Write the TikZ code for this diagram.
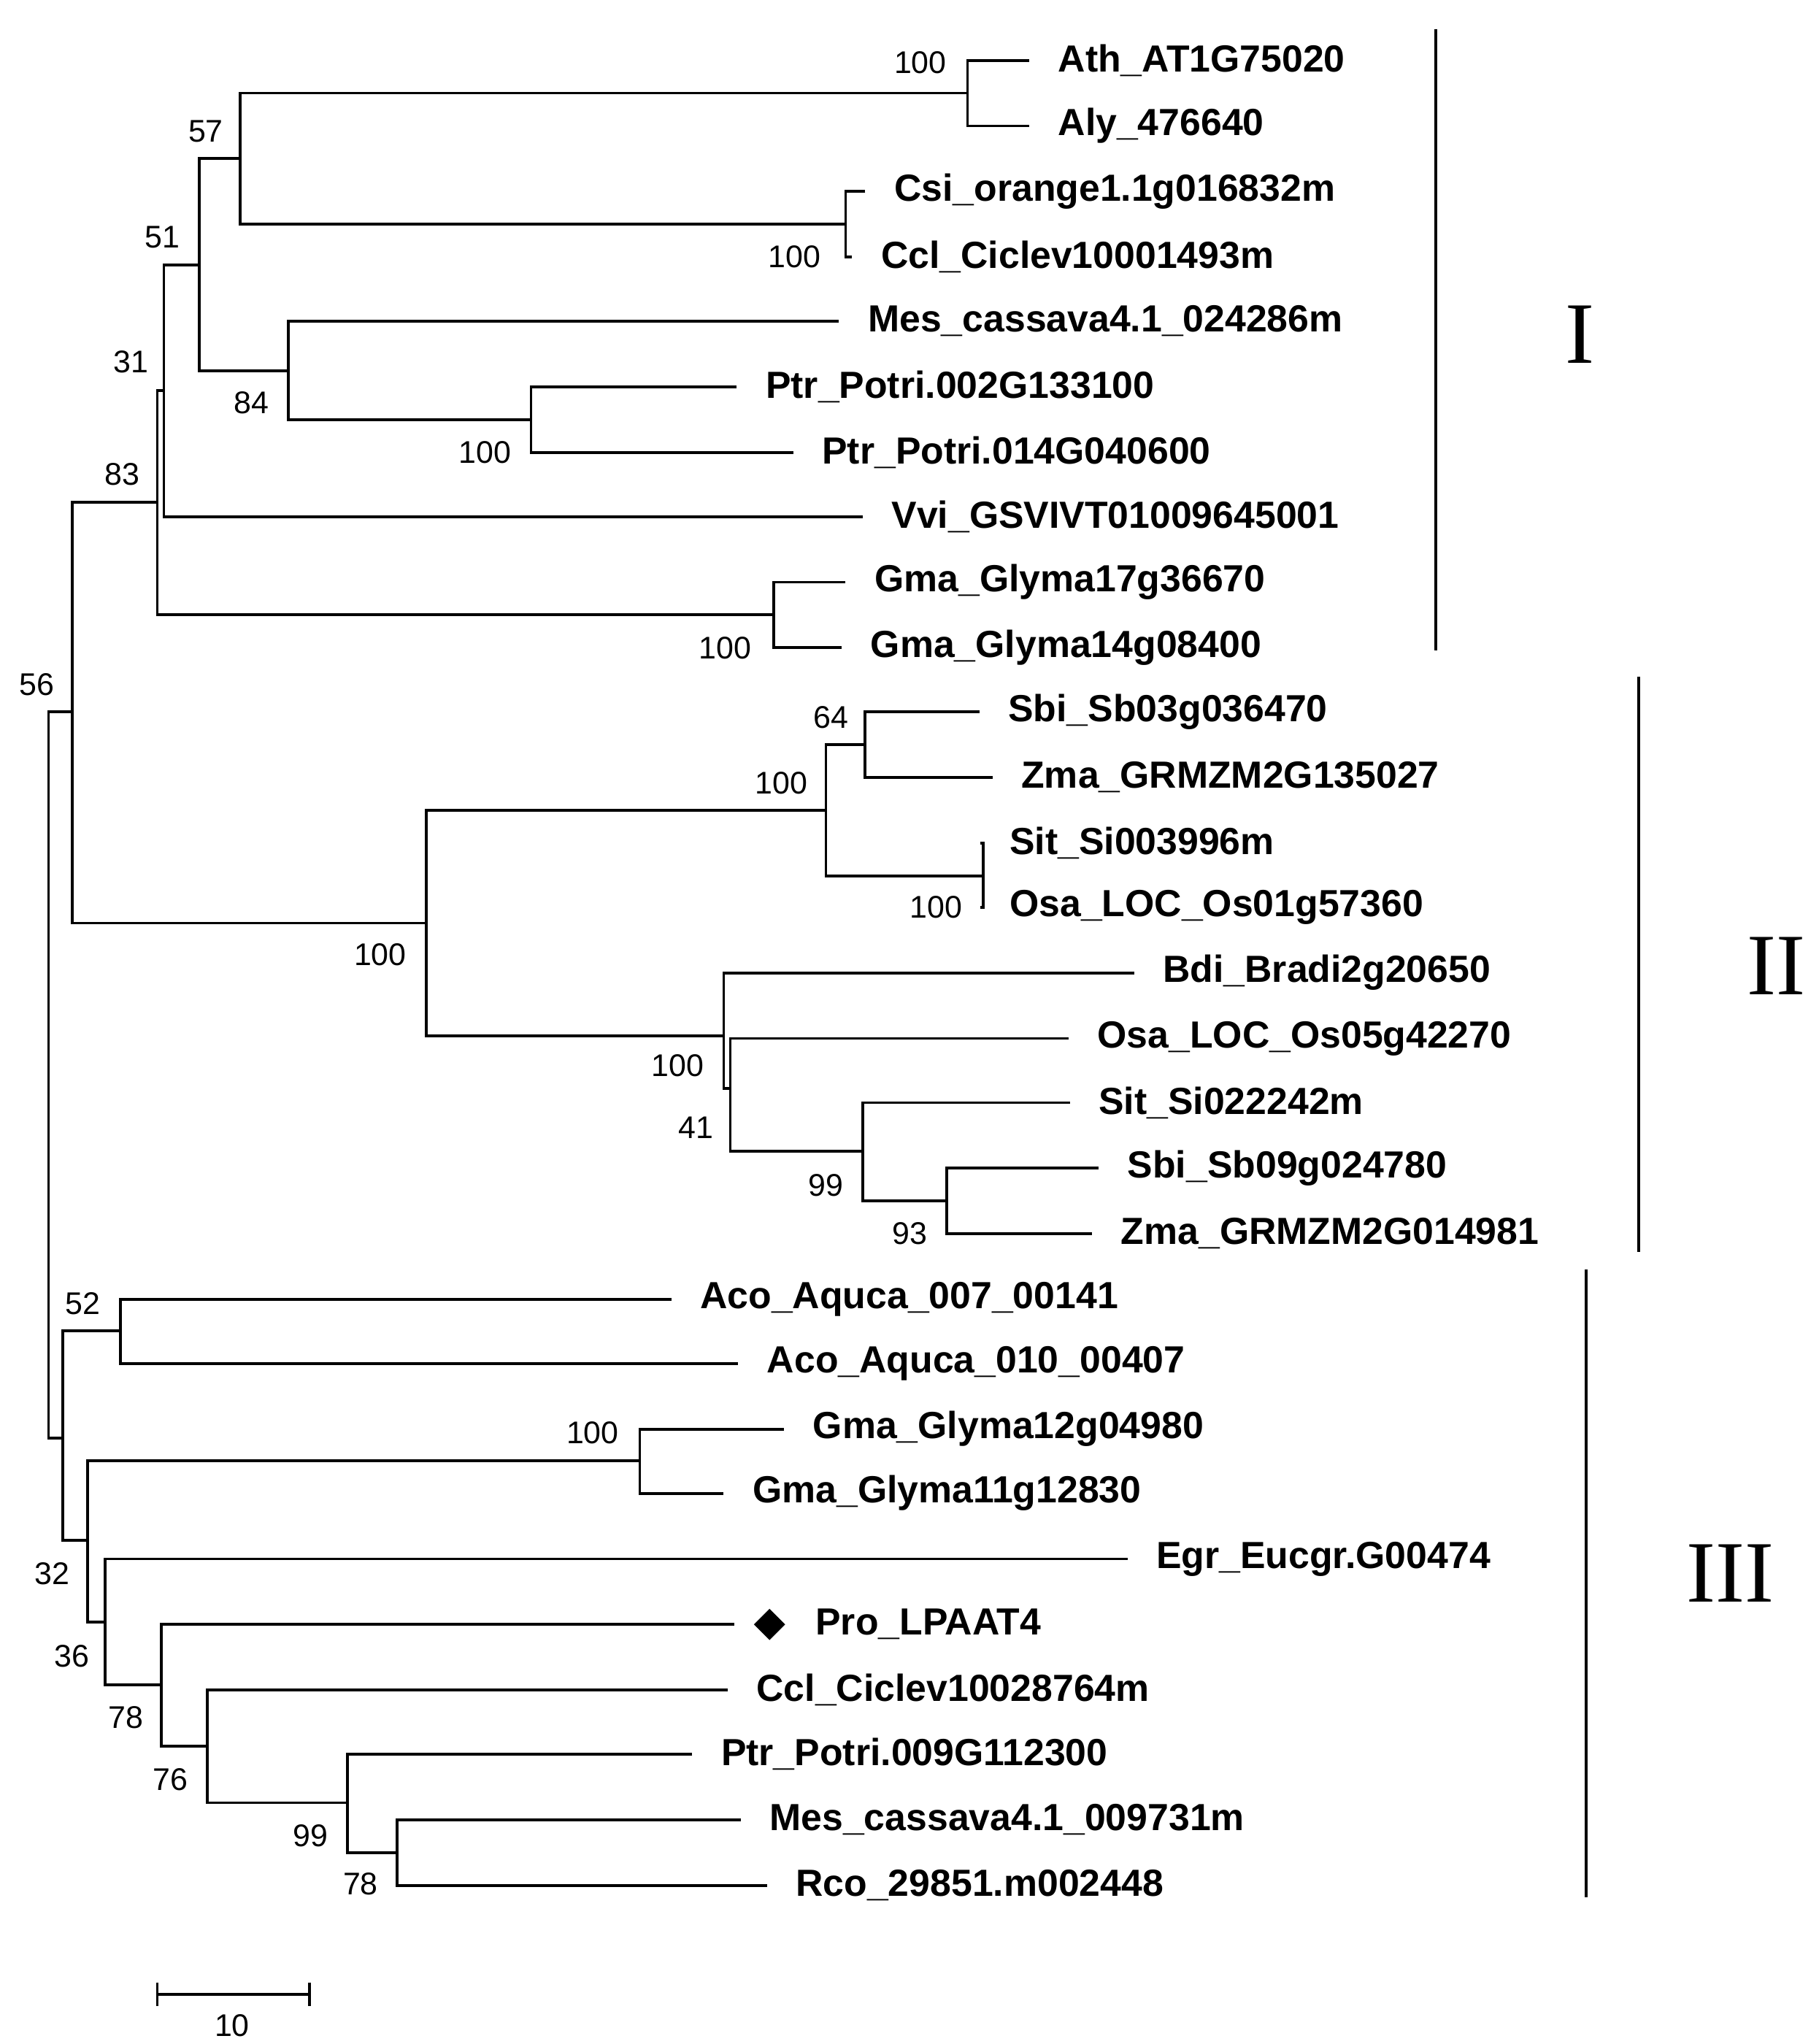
\documentclass[tikz,border=0pt]{standalone}
\usepackage{fontspec}
\setmainfont{Liberation Sans}
\usetikzlibrary{shapes.geometric}
\tikzset{
 br/.style={line width=3pt},
 leaf/.style={anchor=west,inner sep=0pt,font=\fontsize{41}{46}\selectfont\bfseries},
 bs/.style={inner sep=0pt,font=\fontsize{34}{40}\selectfont},
 clab/.style={inner sep=0pt,font=\fontspec{Liberation Serif}\fontsize{95}{105}\selectfont},
}
\newcommand\lf[4]{\coordinate (#1) at (#2,#3); \node[leaf] (t#1) at (#2+22,#3) {#4};}
\begin{document}
\begin{tikzpicture}[x=0.05cm,y=-0.05cm]
\useasboundingbox (0,0) rectangle (1387,1559);
% leaves
\lf{a1}{785}{46}{Ath\_AT1G75020}
\lf{a2}{785}{96}{Aly\_476640}
\lf{a3}{660}{146}{Csi\_orange1.1g016832m}
\lf{a4}{650}{196}{Ccl\_Ciclev10001493m}
\lf{a5}{640}{245}{Mes\_cassava4.1\_024286m}
\lf{a6}{562}{295}{Ptr\_Potri.002G133100}
\lf{a7}{605}{345}{Ptr\_Potri.014G040600}
\lf{a8}{658}{394}{Vvi\_GSVIVT01009645001}
\lf{a9}{645}{444}{Gma\_Glyma17g36670}
\lf{a10}{642}{494}{Gma\_Glyma14g08400}
\lf{b1}{747}{543}{Sbi\_Sb03g036470}
\lf{b2}{757}{593}{Zma\_GRMZM2G135027}
\lf{b3}{748}{643}{Sit\_Si003996m}
\lf{b4}{748}{692}{Osa\_LOC\_Os01g57360}
\lf{b5}{865}{742}{Bdi\_Bradi2g20650}
\lf{b6}{815}{792}{Osa\_LOC\_Os05g42270}
\lf{b7}{816}{841}{Sit\_Si022242m}
\lf{b8}{838}{891}{Sbi\_Sb09g024780}
\lf{b9}{833}{941}{Zma\_GRMZM2G014981}
\lf{c1}{512}{991}{Aco\_Aquca\_007\_00141}
\lf{c2}{563}{1040}{Aco\_Aquca\_010\_00407}
\lf{c3}{598}{1090}{Gma\_Glyma12g04980}
\lf{c4}{552}{1139}{Gma\_Glyma11g12830}
\lf{c5}{860}{1189}{Egr\_Eucgr.G00474}
\coordinate (c6) at (560,1239);
\node[diamond,fill=black,minimum width=34pt,minimum height=34pt,inner sep=0pt] (dia) at (587,1239) {};
\node[leaf] (tc6) at (622,1239) {Pro\_LPAAT4};
\lf{c7}{555}{1289}{Ccl\_Ciclev10028764m}
\lf{c8}{528}{1338}{Ptr\_Potri.009G112300}
\lf{c9}{565}{1388}{Mes\_cassava4.1\_009731m}
\lf{c10}{585}{1438}{Rco\_29851.m002448}
% clade I
\draw[br] (a1) -| (738,71) coordinate (nA) |- (a2);
\draw[br] (a3) -| (645,171) coordinate (nB) |- (a4);
\draw[br] (nA) -| (183,121) coordinate (nC) |- (nB);
\draw[br] (a6) -| (405,320) coordinate (nD) |- (a7);
\draw[br] (a5) -| (220,283) coordinate (nE) |- (nD);
\draw[br] (nC) -| (152,202) coordinate (nF) |- (nE);
\draw[br] (nF) -| (125,298) coordinate (n31) |- (a8);
\draw[br] (a9) -| (590,469) coordinate (nG) |- (a10);
\draw[br] (n31) -| (120,383) coordinate (n83) |- (nG);
% clade II
\draw[br] (b1) -| (660,568) coordinate (n64) |- (b2);
\draw[br] (b3) -| (750,668) coordinate (nH) |- (b4);
\draw[br] (n64) -| (630,618) coordinate (nI) |- (nH);
\draw[br] (b8) -| (722,916) coordinate (n93) |- (b9);
\draw[br] (b7) -| (658,878) coordinate (n99) |- (n93);
\draw[br] (b6) -| (557,830) coordinate (n41) |- (n99);
\draw[br] (b5) -| (552,790) coordinate (nJ) |- (n41);
\draw[br] (nI) -| (325,704) coordinate (nK) |- (nJ);
\draw[br] (n83) -| (55,543) coordinate (n56) |- (nK);
% clade III
\draw[br] (c1) -| (92,1015) coordinate (n52) |- (c2);
\draw[br] (c3) -| (488,1114) coordinate (nL) |- (c4);
\draw[br] (c9) -| (303,1413) coordinate (n78b) |- (c10);
\draw[br] (c8) -| (265,1375) coordinate (n99b) |- (n78b);
\draw[br] (c7) -| (158,1332) coordinate (n76) |- (n99b);
\draw[br] (c6) -| (123,1285) coordinate (n78) |- (n76);
\draw[br] (c5) -| (80,1237) coordinate (n36) |- (n78);
\draw[br] (nL) -| (67,1175) coordinate (n32) |- (n36);
\draw[br] (n52) -| (48,1097) coordinate (nM) |- (n32);
\draw[br] (n56) -| (37,820) coordinate (root) |- (nM);
% bootstrap
\foreach \t/\x/\y in {100/702/48,100/606/196,57/157/100,51/124/181,84/192/307,100/370/345,31/100/276,83/93/362,100/553/494,56/28/522,64/634/547,100/596/597,100/714/692,100/290/728,100/517/813,41/531/860,99/630/904,93/694/941,52/63/994,100/452/1093,32/40/1200,36/55/1263,78/96/1310,76/130/1357,99/237/1400,78/275/1437}
 \node[bs] at (\x,\y) {\t};
% clade bars
\draw[br] (1095,22) coordinate (i1) -- (1095,496) coordinate (i2);
\node[clab] (lI) at (1205,255) {I};
\draw[br] (1250,516) coordinate (ii1) -- (1250,955) coordinate (ii2);
\node[clab] (lII) at (1355,737) {II};
\draw[br] (1210,968) coordinate (iii1) -- (1210,1447) coordinate (iii2);
\node[clab] (lIII) at (1320,1200) {III};
% scale
\draw[br] (120,1521) coordinate (s1) -- (236,1521) coordinate (s2);
\draw[br] (120,1512)--(120,1530) (236,1512)--(236,1530);
\node[bs] (sl) at (177,1545) {10};
\end{tikzpicture}
\end{document}
